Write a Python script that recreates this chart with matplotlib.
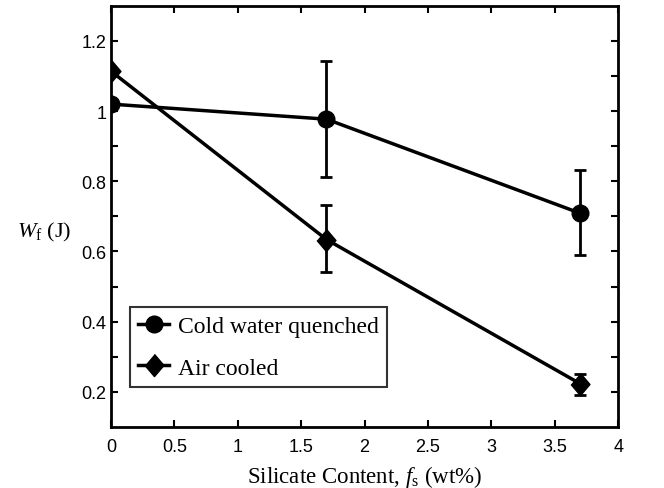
import matplotlib
matplotlib.use('Agg')
import matplotlib.pyplot as plt
from matplotlib.lines import Line2D
from matplotlib.ticker import FixedLocator

plt.rcParams['mathtext.fontset'] = 'custom'
plt.rcParams['mathtext.rm'] = 'Liberation Serif'
plt.rcParams['mathtext.it'] = 'Liberation Serif:italic'

# silicate content (wt%)
fs = [0, 1.7, 3.7]

# cold water quenched
cwq = [1.02, 0.977, 0.709]
cwq_lo = [0.0, 0.166, 0.12]
cwq_hi = [0.0, 0.166, 0.122]

# air cooled
air = [1.114, 0.634, 0.223]
air_lo = [0.0, 0.094, 0.032]
air_hi = [0.0, 0.097, 0.028]

xticks = [0, 0.5, 1, 1.5, 2, 2.5, 3, 3.5, 4]
xlabels = ['0', '0.5', '1', '1.5', '2', '2.5', '3', '3.5', '4']
yticks = [0.2, 0.4, 0.6, 0.8, 1.0, 1.2]
ylabels = ['0.2', '0.4', '0.6', '0.8', '1', '1.2']
yminor = [0.3, 0.5, 0.7, 0.9, 1.1]

# slightly tall diamond like the original
diamond = [(0, 1), (0.85, 0), (0, -1), (-0.85, 0)]

fig = plt.figure(figsize=(6.64, 4.89), dpi=100)
ax = fig.add_axes([0.167, 0.125, 0.764, 0.861])

ax.errorbar(fs, cwq, yerr=[cwq_lo, cwq_hi], color='black', lw=2.5, marker='o',
            ms=12, capsize=4, capthick=2, elinewidth=2)
ax.errorbar(fs, air, yerr=[air_lo, air_hi], color='black', lw=2.5, marker=diamond,
            ms=16, capsize=4, capthick=2, elinewidth=2)

ax.set_xlim(0, 4)
ax.set_ylim(0.1, 1.3)
ax.xaxis.set_major_locator(FixedLocator(xticks))
ax.set_xticklabels(xlabels)
ax.yaxis.set_major_locator(FixedLocator(yticks))
ax.set_yticklabels(ylabels)
ax.yaxis.set_minor_locator(FixedLocator(yminor))
ax.tick_params(which='both', direction='in', top=True, right=True, width=1.5,
               length=5, labelsize=13)
ax.tick_params(axis='x', pad=8)
ax.tick_params(axis='y', pad=3)
for lab in ax.get_xticklabels() + ax.get_yticklabels():
    lab.set_family('Liberation Sans')
for s in ax.spines.values():
    s.set_linewidth(2)

ax.set_xlabel(r'Silicate Content, $f_{\rm s}$ (wt%)', family='Liberation Serif',
              fontsize=16.5, labelpad=6)
fig.text(0.025, 0.525, r'$W_{\rm f}$ (J)', family='Liberation Serif', fontsize=16,
         ha='left', va='center')

handles = [
    Line2D([], [], color='black', lw=2.5, marker='o', ms=12),
    Line2D([], [], color='black', lw=2.5, marker=diamond, ms=16),
]
leg = ax.legend(handles, ['Cold water quenched', 'Air cooled'],
                loc='lower left', bbox_to_anchor=(0.0375, 0.095), frameon=True,
                fancybox=False, edgecolor='black',
                prop={'family': 'Liberation Serif', 'size': 17},
                handlelength=1.3, handletextpad=0.4, labelspacing=0.85,
                borderpad=0.35, borderaxespad=0)
leg.get_frame().set_linewidth(1.5)

fig.savefig('out.png', dpi=100)
